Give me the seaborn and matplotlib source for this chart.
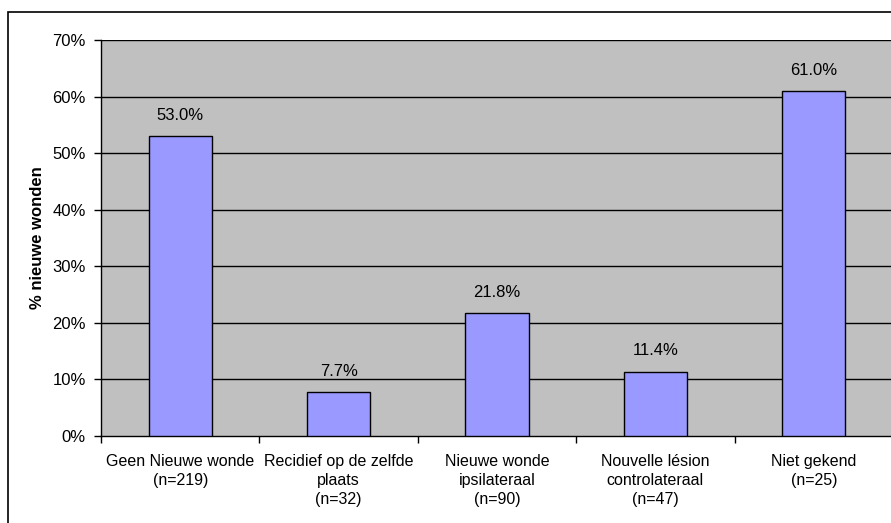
import matplotlib
matplotlib.use("Agg")
import matplotlib.pyplot as plt
import seaborn as sns
import pandas as pd
from matplotlib.patches import Rectangle

categories = ["Geen Nieuwe wonde\n(n=219)", "Recidief op de zelfde\nplaats\n(n=32)",
              "Nieuwe wonde\nipsilateraal\n(n=90)", "Nouvelle lésion\ncontrolateraal\n(n=47)",
              "Niet gekend\n(n=25)"]
values = [53.0, 7.7, 21.8, 11.4, 61.0]
yticks = [0, 10, 20, 30, 40, 50, 60, 70]

sns.set_theme(style="white")
plt.rcParams['font.family'] = ['Liberation Sans', 'DejaVu Sans']
plt.rcParams['text.color'] = 'black'
plt.rcParams['xtick.color'] = 'black'
plt.rcParams['ytick.color'] = 'black'
plt.rcParams['axes.labelcolor'] = 'black'

fig = plt.figure(figsize=(8.91, 5.23), dpi=100)
ax = fig.add_axes([101/891, 1-436/523, (893-101)/891, (436-40)/523])

df = pd.DataFrame({"cat": categories, "val": values})
sns.barplot(data=df, x="cat", y="val", ax=ax, color="#9999FF", saturation=1,
            width=0.4, edgecolor="black", linewidth=1, zorder=3)

ax.set_facecolor("#C0C0C0")
ax.set_ylim(0, 70)
ax.set_xlim(-0.5, 4.5)
ax.set_yticks(yticks)
ax.set_yticklabels([f"{t}%" for t in yticks], fontsize=12)
for t in yticks[1:]:
    ax.axhline(t, color="black", linewidth=1, zorder=1)

ax.set_xticks(range(len(categories)))
ax.set_xticklabels(categories, fontsize=11.5, linespacing=1.32)
ax.set_xticks([i - 0.5 for i in range(len(categories) + 1)], minor=True)
ax.tick_params(axis="x", which="major", length=0, pad=13)
ax.tick_params(axis="x", which="minor", length=5, width=1, color="black", direction="out")
ax.tick_params(axis="y", length=5, width=1, color="black", direction="out", pad=6)
ax.xaxis.set_ticks_position("bottom")
ax.yaxis.set_ticks_position("left")

for s in ["top", "right"]:
    ax.spines[s].set_visible(False)
for s in ["left", "bottom"]:
    ax.spines[s].set_color("black")
    ax.spines[s].set_linewidth(1)

for i, v in enumerate(values):
    ax.text(i, v + 2.3, f"{v:.1f}%", ha="center", va="bottom", fontsize=12)

ax.set_xlabel("")
ax.set_ylabel("% nieuwe wonden", fontsize=12, fontweight="bold", labelpad=5)

fig.patches.append(Rectangle((8/891, -0.1), 1.2, 1 - 12/523 + 0.1, transform=fig.transFigure,
                             fill=False, edgecolor="black", linewidth=1.2))

fig.savefig("out.png", dpi=100)
